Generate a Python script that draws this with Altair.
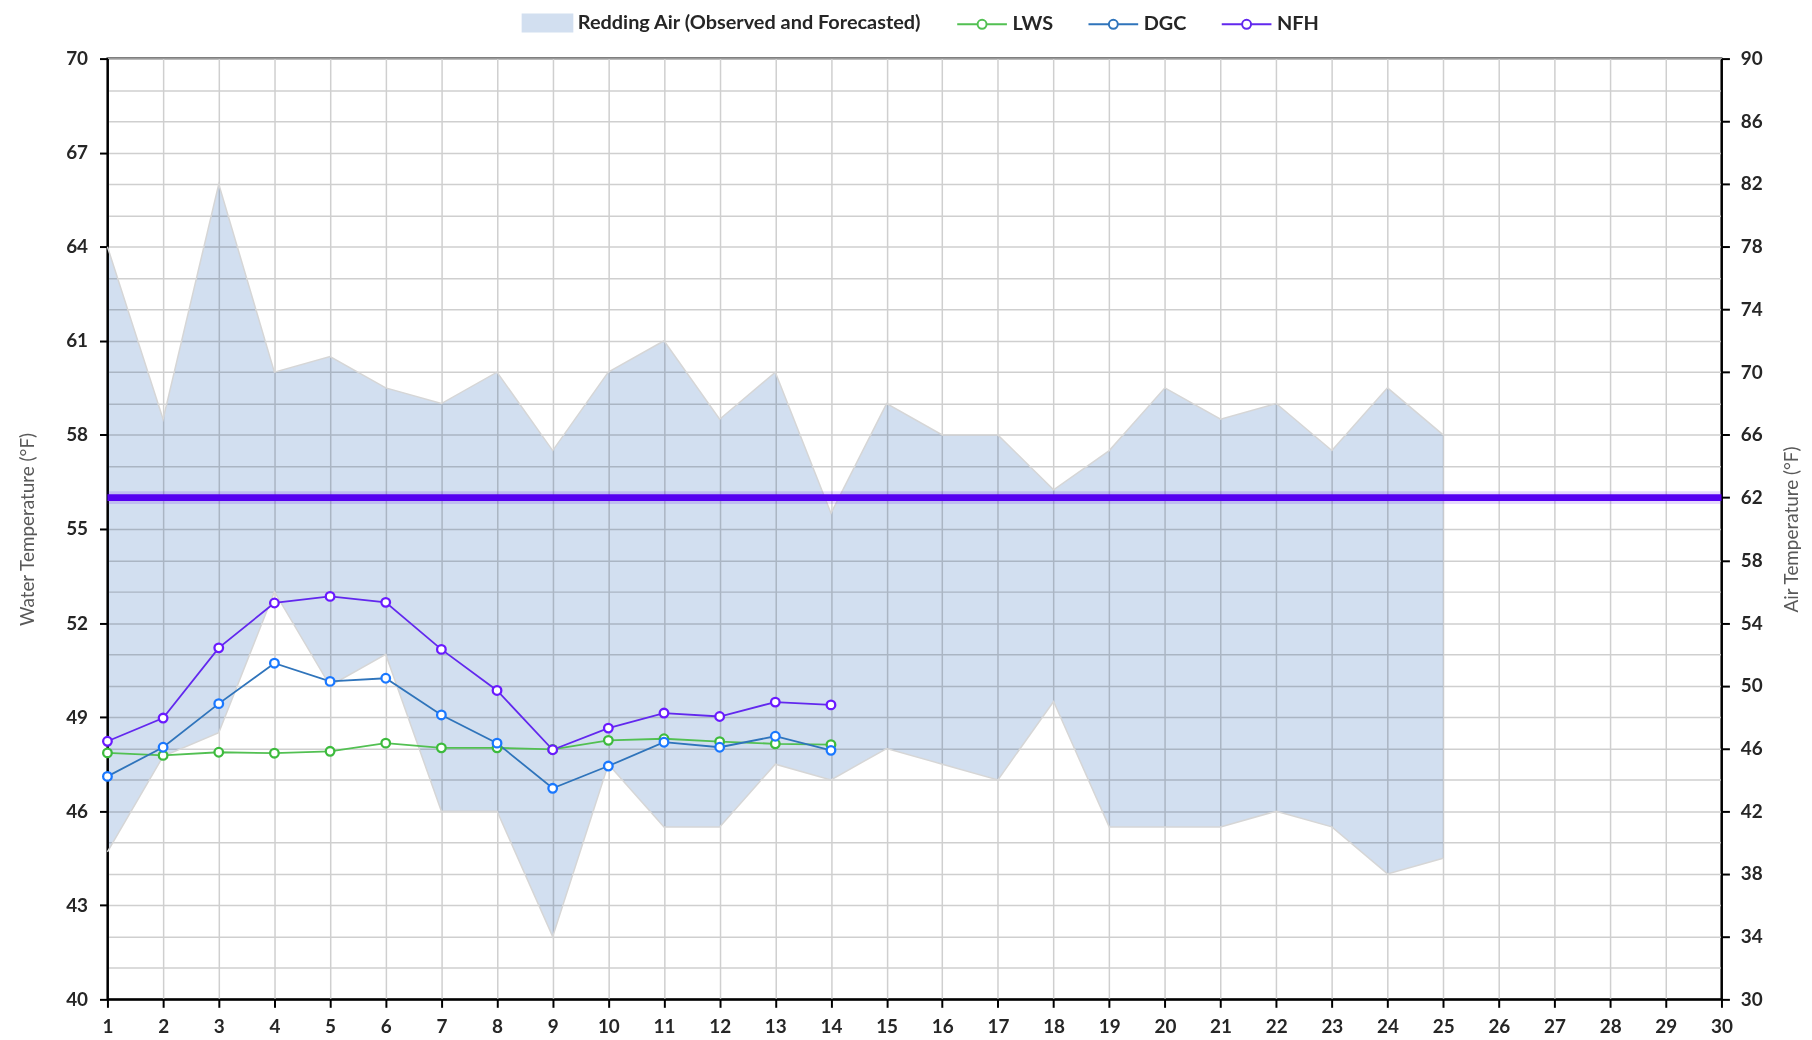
import altair as alt
import pandas as pd

# ---------------- data ----------------
AIR_NAME = "Redding Air (Observed and Forecasted)"
air_days = list(range(1, 26))
air_high = [78, 67, 82, 70, 71, 69, 68, 70, 65, 70, 72, 67, 70, 61, 68, 66, 66, 62.5, 65, 69, 67, 68, 65, 69, 66]
air_low = [39.4, 45.5, 47, 56, 50, 52, 42, 42, 34, 45, 41, 41, 45, 44, 46, 45, 44, 49, 41, 41, 41, 42, 41, 38, 39]

obs_days = list(range(1, 15))
lws = [47.86, 47.78, 47.88, 47.85, 47.91, 48.17, 48.02, 48.02, 47.97, 48.26, 48.31, 48.22, 48.15, 48.12]
dgc = [47.11, 48.04, 49.43, 50.72, 50.14, 50.24, 49.07, 48.17, 46.73, 47.44, 48.20, 48.04, 48.39, 47.94]
nfh = [48.23, 48.97, 51.21, 52.64, 52.85, 52.66, 51.16, 49.85, 47.96, 48.65, 49.13, 49.02, 49.48, 49.39]

threshold_days = [1, 30]
threshold_value = 56

day_ticks = list(range(1, 31))
water_ticks = list(range(40, 71, 3))
air_grid_ticks = list(range(30, 91, 2))

series_names = [AIR_NAME, "LWS", "DGC", "NFH"]

# ---------------- tables ----------------
air_df = pd.DataFrame({"day": air_days, "hi": air_high, "lo": air_low, "series": AIR_NAME})
water_df = pd.concat([
    pd.DataFrame({"day": obs_days, "temp": vals, "series": name})
    for name, vals in [("LWS", lws), ("DGC", dgc), ("NFH", nfh)]
], ignore_index=True)
thr_df = pd.DataFrame({"day": threshold_days, "temp": [threshold_value] * len(threshold_days)})

# ---------------- styles ----------------
BAND = "#d2dff0"
FONT = "Lato"
# legend glyphs (symbolSize 289 -> unit = 8.5 px); drawn to the right of the entry origin
LC = "M-1,0H1.41M2.47,0H4.88M1.41,0A0.53,0.53 0 1,1 2.47,0A0.53,0.53 0 1,1 1.41,0"
RECT = "M-1,-1H4.88V1H-1Z"

fill_scale = alt.Scale(domain=series_names, range=[BAND, "white", "white", "white"])
stroke_scale = alt.Scale(domain=series_names, range=[BAND, "#3dbb3d", "#1a78ff", "#6a1aff"])
line_scale = alt.Scale(domain=series_names, range=[BAND, "#52c052", "#2f74bb", "#6228ee"])
shape_scale = alt.Scale(domain=series_names, range=[RECT, LC, LC, LC])

legend = alt.Legend(
    title=None, orient="none", legendX=416, legendY=-46, direction="horizontal", columns=4,
    symbolSize=289, symbolStrokeWidth=2, labelFont=FONT, labelFontSize=20, labelLimit=1000,
    labelFontWeight="bold", labelColor="#262626", columnPadding=31, labelOffset=37,
)

x_scale = alt.Scale(domain=[1, 30], nice=False, zero=False)
water_scale = alt.Scale(domain=[40, 70], nice=False, zero=False)
air_scale = alt.Scale(domain=[30, 90], nice=False, zero=False)

common_axis = dict(
    domainColor="black", domainWidth=2, tickColor="black", tickWidth=2, tickSize=8,
    labelFont=FONT, labelFontSize=19, labelFontWeight="bold", labelColor="#262626",
    titleFont=FONT, titleFontSize=19, titleFontWeight="normal", titleColor="#595959",
)

x_axis = alt.Axis(values=day_ticks, format="d", title=None, grid=True, gridColor="#cfcfcf",
                  gridWidth=1.5, labelPadding=10, labelFlush=False, **common_axis)
water_axis = alt.Axis(values=water_ticks, orient="left", title="Water Temperature (°F)", grid=False,
                      labelPadding=12, titlePadding=28, **common_axis)
air_axis = alt.Axis(values=air_grid_ticks, orient="right", title="Air Temperature (°F)", titleAngle=270,
                    titleBaseline="top",
                    grid=True, gridColor="#cfcfcf", gridWidth=1.5, labelPadding=11, titlePadding=20,
                    labelExpr="datum.value % 4 == 0 ? '' : datum.label",
                    tickOpacity={"condition": {"test": "datum.value % 4 == 0", "value": 0}, "value": 1},
                    **common_axis)

X = alt.X("day:Q", scale=x_scale, axis=x_axis)

# ---------------- air layer (right axis) ----------------
band = alt.Chart(air_df).mark_area(blend="multiply").encode(
    x=X,
    y=alt.Y("hi:Q", scale=air_scale, axis=air_axis),
    y2="lo:Q",
    fill=alt.Fill("series:N", scale=fill_scale, legend=legend),
)
band_top = alt.Chart(air_df).mark_line(color="#d6d6d6", strokeWidth=1.5).encode(
    x=X, y=alt.Y("hi:Q", scale=air_scale, axis=air_axis)
)
band_bot = alt.Chart(air_df).mark_line(color="#d6d6d6", strokeWidth=1.5).encode(
    x=X, y=alt.Y("lo:Q", scale=air_scale, axis=air_axis)
)
air_layer = alt.layer(band, band_top, band_bot)

# ---------------- water layer (left axis) ----------------
Yw = alt.Y("temp:Q", scale=water_scale, axis=water_axis)

thr_glow = alt.Chart(thr_df).mark_line(color="#5a00f0", strokeWidth=13, opacity=0.15).encode(x=X, y=Yw)
thr = alt.Chart(thr_df).mark_line(color="#5500f0", strokeWidth=7).encode(x=X, y=Yw)

lines = alt.Chart(water_df).mark_line(strokeWidth=1.8).encode(
    x=X, y=Yw,
    color=alt.Color("series:N", scale=line_scale, legend=None),
    detail="series:N",
)
points = alt.Chart(water_df).mark_point(filled=True, size=75, strokeWidth=2.3, opacity=1).encode(
    x=X, y=Yw,
    stroke=alt.Stroke("series:N", scale=stroke_scale, legend=legend),
    fill=alt.Fill("series:N", scale=fill_scale, legend=legend),
)
legend_helper = alt.Chart(water_df).mark_point(filled=True, strokeWidth=2).encode(
    x=X, y=Yw,
    shape=alt.Shape("series:N", scale=shape_scale, legend=legend),
    stroke=alt.Stroke("series:N", scale=stroke_scale, legend=legend),
    fill=alt.Fill("series:N", scale=fill_scale, legend=legend),
).transform_filter("false")

water_layer = alt.layer(thr_glow, thr, lines, points, legend_helper)

chart = alt.layer(air_layer, water_layer).resolve_scale(y="independent").properties(
    width=1623, height=946,
    padding={"left": 10, "top": 2, "right": 2, "bottom": 2},
).configure_view(stroke="black", strokeWidth=2)

chart.save("out.html", embed_options={"renderer": "svg", "actions": False})
